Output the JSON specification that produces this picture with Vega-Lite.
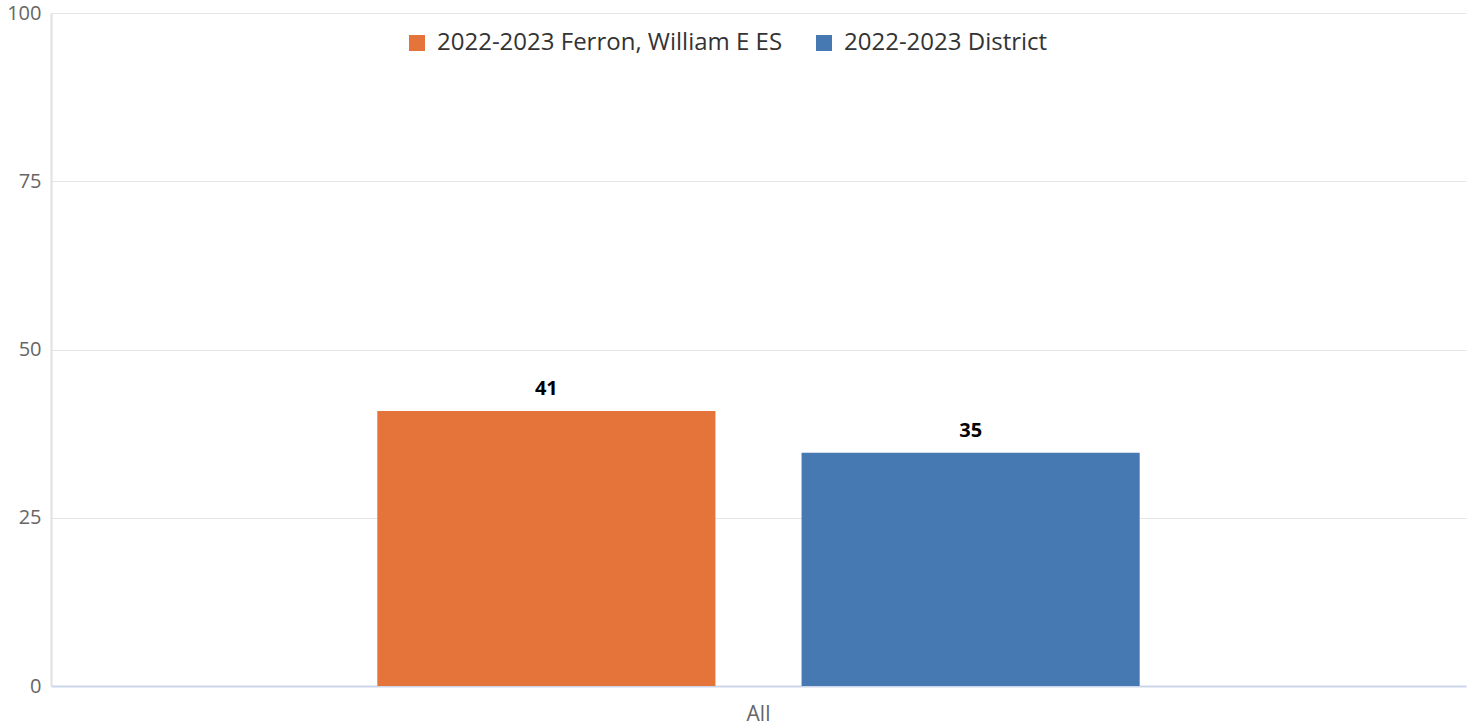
{
  "$schema": "https://vega.github.io/schema/vega-lite/v6.json",
  "width": 1473,
  "height": 728,
  "autosize": {"type": "fit", "contains": "padding"},
  "padding": {"left": 6, "top": 3, "right": 7, "bottom": 4},
  "background": "white",
  "config": {
    "font": "Open Sans",
    "view": {"stroke": null}
  },
  "data": {
    "values": [
      {"group": "All", "series": "2022-2023 Ferron, William E ES", "value": 40.85},
      {"group": "All", "series": "2022-2023 District", "value": 34.64}
    ]
  },
  "encoding": {
    "x": {
      "field": "group",
      "type": "nominal",
      "scale": {"paddingInner": 0, "paddingOuter": 0.428},
      "axis": {
        "title": null,
        "labelAngle": 0,
        "labelFontSize": 21,
        "labelColor": "#666666",
        "labelFont": "Open Sans",
        "labelPadding": 17,
        "ticks": false,
        "domainColor": "#ccd6eb",
        "domainWidth": 2,
        "grid": false
      }
    },
    "xOffset": {
      "field": "series",
      "type": "nominal",
      "sort": ["2022-2023 Ferron, William E ES", "2022-2023 District"],
      "scale": {"paddingInner": 0.203, "paddingOuter": 0}
    }
  },
  "layer": [
    {
      "mark": {"type": "bar"},
      "encoding": {
        "y": {
          "field": "value",
          "type": "quantitative",
          "scale": {"domain": [0, 100], "nice": false},
          "axis": {
            "title": null,
            "values": [0, 25, 50, 75, 100],
            "labelFontSize": 20,
            "labelColor": "#666666",
            "labelFont": "Open Sans",
            "labelPadding": 10,
            "ticks": false,
            "domain": true,
            "domainColor": "#e0e0e0",
            "domainWidth": 2,
            "gridColor": "#e6e6e6",
            "gridWidth": 1
          }
        },
        "color": {
          "field": "series",
          "type": "nominal",
          "sort": ["2022-2023 Ferron, William E ES", "2022-2023 District"],
          "scale": {"domain": ["2022-2023 Ferron, William E ES", "2022-2023 District"], "range": ["#e4743a", "#4679b2"]},
          "legend": {
            "title": null,
            "orient": "none",
            "direction": "horizontal",
            "legendX": 354,
            "legendY": 18,
            "symbolType": "square",
            "symbolSize": 256,
            "symbolStrokeWidth": 0,
            "labelFontSize": 24,
            "labelLimit": 0,
            "labelOffset": 8,
            "labelColor": "#333333",
            "labelFont": "Open Sans",
            "columnPadding": 29,
            "symbolOffset": 0
          }
        }
      }
    },
    {
      "mark": {"type": "text", "dy": -16, "fontWeight": "bold", "fontSize": 20, "font": "Open Sans", "color": "#000000", "baseline": "alphabetic"},
      "encoding": {
        "y": {"field": "value", "type": "quantitative"},
        "text": {"field": "value", "type": "quantitative", "format": ".0f"}
      }
    }
  ]
}
